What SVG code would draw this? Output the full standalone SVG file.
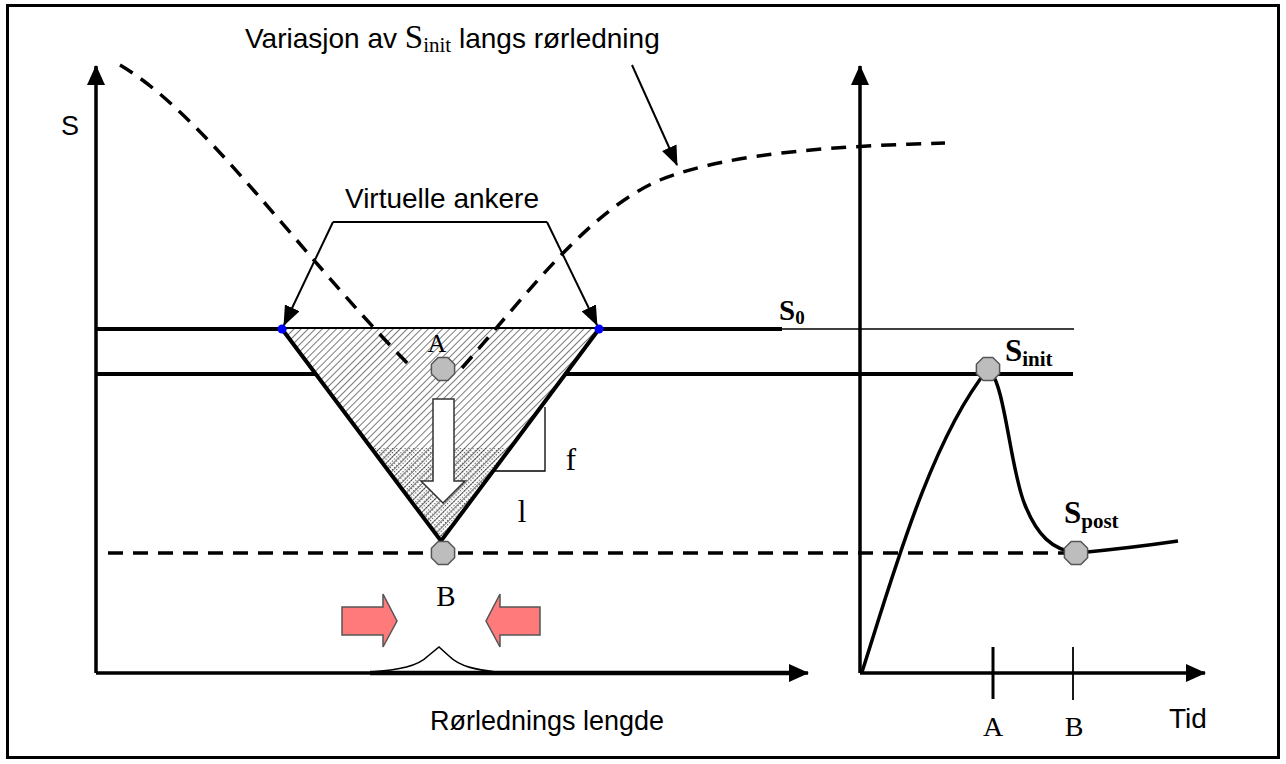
<svg xmlns="http://www.w3.org/2000/svg" width="1286" height="764" viewBox="0 0 1286 764">
<style>
.sans{font-family:"Liberation Sans",Arial,sans-serif;fill:#000}
.serif{font-family:"Liberation Serif","Times New Roman",serif;fill:#000}
.bold{font-weight:bold}
.axis{stroke:#000;stroke-width:3.5;fill:none}
.thick{stroke:#000;stroke-width:4;fill:none}
.thin{stroke:#000;stroke-width:1.3;fill:none}
.dash{stroke:#000;stroke-width:3.5;fill:none;stroke-dasharray:15 10}
.ptr{stroke:#000;stroke-width:2;fill:none}
.dot{fill:#bdbdbd;stroke:#555;stroke-width:1.5}
.red{fill:#ff7b7b;stroke:#555;stroke-width:1.5}
</style>
<defs>
<marker id="axh" viewBox="0 0 20 18" refX="19" refY="9" markerWidth="20" markerHeight="18" orient="auto" markerUnits="userSpaceOnUse">
<path d="M0,0 L20,9 L0,18 z" fill="#000"/>
</marker>
<marker id="ptrh" viewBox="0 0 20 16" refX="19" refY="8" markerWidth="20" markerHeight="16" orient="auto" markerUnits="userSpaceOnUse">
<path d="M0,0 L20,8 L0,16 z" fill="#000"/>
</marker>
<pattern id="hatch" width="5" height="5" patternUnits="userSpaceOnUse" patternTransform="rotate(45)">
<rect width="5" height="5" fill="#fff"/>
<line x1="0" y1="0" x2="0" y2="5" stroke="#333" stroke-width="1.3"/>
</pattern>
<pattern id="dots" width="3" height="3" patternUnits="userSpaceOnUse" patternTransform="rotate(45)">
<rect x="0" y="0" width="1.2" height="1.2" fill="#222"/>
</pattern>
<clipPath id="triClip"><polygon points="282,329 599,329 441,541"/></clipPath>
<polygon id="oct" points="4.8,-11.6 -4.8,-11.6 -11.6,-4.8 -11.6,4.8 -4.8,11.6 4.8,11.6 11.6,4.8 11.6,-4.8"/>
</defs>

<rect x="7.5" y="5.5" width="1271" height="752" fill="#fff" stroke="#000" stroke-width="3"/>

<g id="left-axes">
<line class="axis" x1="96" y1="673" x2="96" y2="66" marker-end="url(#axh)"/>
<line class="axis" x1="96" y1="673" x2="808" y2="673" marker-end="url(#axh)"/>
<line x1="370" y1="673" x2="790" y2="673" stroke="#000" stroke-width="4.5"/>
<text class="sans" x="61" y="135" font-size="27">S</text>
<text class="sans" x="547" y="730" font-size="27" text-anchor="middle">Rørlednings lengde</text>
</g>

<g id="right-axes">
<line class="axis" x1="860" y1="673" x2="860" y2="66" marker-end="url(#axh)"/>
<line class="axis" x1="860" y1="673" x2="1205" y2="673" marker-end="url(#axh)"/>
<line x1="993" y1="647" x2="993" y2="699" stroke="#000" stroke-width="3"/>
<line x1="1073" y1="647" x2="1073" y2="700" stroke="#000" stroke-width="1.8"/>
<text class="serif" x="993" y="736" font-size="28" text-anchor="middle">A</text>
<text class="serif" x="1074" y="736" font-size="28" text-anchor="middle">B</text>
<text class="sans" x="1169" y="728" font-size="28">Tid</text>
</g>

<g id="levels">
<line class="thick" x1="96" y1="329" x2="782" y2="329"/>
<line class="thin" x1="782" y1="329" x2="1074" y2="329"/>
<line class="thick" x1="96" y1="374" x2="1073" y2="374"/>
<line class="dash" x1="108" y1="553" x2="1070" y2="553" stroke-width="3"/>
<text class="serif bold" x="779" y="320" font-size="29">S<tspan font-size="19" dy="4">0</tspan></text>
</g>

<g id="triangle">
<polygon points="282,329 599,329 441,541" fill="url(#hatch)"/>
<g clip-path="url(#triClip)">
<polygon points="370,448 520,448 530,545 360,545" fill="url(#dots)" opacity="0.8"/>
</g>
<polyline class="thick" points="282,329 441,541 599,329" stroke-width="4.5"/>
<circle cx="282" cy="329" r="4.5" fill="#0000ff"/>
<circle cx="599" cy="329" r="4.5" fill="#0000ff"/>
</g>

<g id="slope">
<polyline class="thin" points="545,407 545,471 495,471" stroke="#333" stroke-width="1.8"/>
<text class="serif" x="571" y="470" font-size="31" text-anchor="middle">f</text>
<text class="serif" x="522" y="522" font-size="31" text-anchor="middle">l</text>
</g>

<g id="dashed-variation">
<path class="dash" d="M120,65 C205,115 300,255 414,370"/>
<path class="dash" d="M462,368 C530,290 590,210 660,180 C730,152 840,146 945,143"/>
</g>

<g id="down-arrow">
<polygon points="433,399 454,399 454,481 465,481 443,503 421,481 433,481" fill="#fff" stroke="#333" stroke-width="1.5"/>
</g>

<g id="point-A">
<use href="#oct" x="443" y="369" class="dot"/>
<text class="serif" x="437" y="352" font-size="26" text-anchor="middle">A</text>
</g>

<g id="point-B">
<use href="#oct" x="443" y="553" class="dot"/>
<text class="serif" x="446" y="606" font-size="29" text-anchor="middle">B</text>
</g>

<g id="compression">
<polygon class="red" points="342,607 383,607 383,594 397,621 383,647 383,635 342,635"/>
<polygon class="red" points="540,607 500,607 500,594 486,621 500,647 500,635 540,635"/>
<path d="M370,672 C400,670 418,666 428,656 L439,647 L449,656 C460,667 478,670 496,672" fill="none" stroke="#000" stroke-width="1.6"/>
</g>

<g id="time-curve">
<path d="M862,672 C890,585 930,440 988,369 C1005,380 1010,470 1025,505 C1037,535 1052,550 1077,553 Q1130,548 1178,541" fill="none" stroke="#000" stroke-width="3.5"/>
<use href="#oct" x="988" y="369" class="dot"/>
<use href="#oct" x="1076" y="553" class="dot"/>
<text class="serif bold" x="1005" y="361" font-size="31">S<tspan font-size="21" dy="5">init</tspan></text>
<text class="serif bold" x="1064" y="523" font-size="31">S<tspan font-size="21" dy="5">post</tspan></text>
</g>

<g id="annotations">
<text class="sans" x="245" y="48" font-size="28">Variasjon av <tspan class="serif" font-size="33">S</tspan><tspan class="serif" font-size="21" dy="4">init</tspan><tspan dy="-4"> langs rørledning</tspan></text>
<text class="sans" x="442" y="208" font-size="28" text-anchor="middle">Virtuelle ankere</text>
</g>

<g id="connectors">
<line class="ptr" x1="632" y1="65" x2="677" y2="165" marker-end="url(#ptrh)"/>
<polyline class="ptr" points="333,222 547,222"/>
<line class="ptr" x1="333" y1="222" x2="284" y2="325" marker-end="url(#ptrh)"/>
<line class="ptr" x1="547" y1="222" x2="597" y2="325" marker-end="url(#ptrh)"/>
</g>
</svg>
